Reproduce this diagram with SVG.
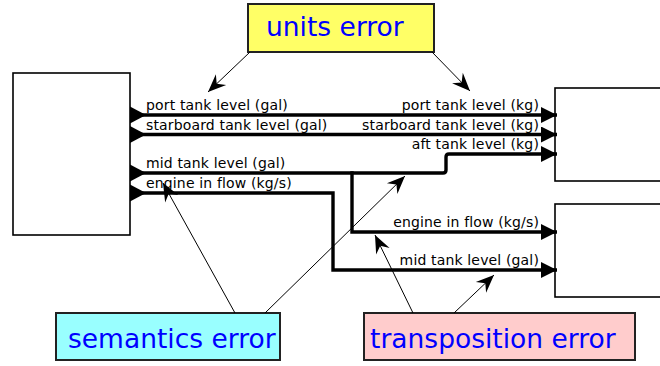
<svg xmlns="http://www.w3.org/2000/svg" width="660" height="366" viewBox="0 0 660 366">
  <style>
    .block { fill: #ffffff; stroke: #000000; stroke-width: 1.6; }
    .note { stroke: #222222; stroke-width: 2; }
    .note-text { font-family: "DejaVu Sans", sans-serif; font-size: 26.5px; fill: #0000ff; }
    .sig { fill: none; stroke: #000000; stroke-width: 3.4; }
    .lbl { font-family: "DejaVu Sans", sans-serif; font-size: 14px; letter-spacing: 0.15px; fill: #000000; }
    .lbl-r { text-anchor: end; }
    .hint { fill: none; stroke: #000000; stroke-width: 1; }
  </style>
  <defs>
    <!-- input-port arrowhead at the receiving block -->
    <marker id="tri" viewBox="-16 -8 16 16" refX="0" refY="0" markerWidth="16" markerHeight="16" markerUnits="userSpaceOnUse" orient="auto">
      <path d="M0,0 L-16,-8 L-16,8 Z" fill="#000000"/>
    </marker>
    <!-- output-port triangle at the sending block -->
    <marker id="outport" viewBox="0 -9 16 18" refX="0" refY="0" markerWidth="16" markerHeight="18" markerUnits="userSpaceOnUse" orient="auto">
      <path d="M16,0 L0,-8.5 L0,8.5 Z" fill="#000000"/>
    </marker>
    <!-- barbed arrowhead for annotation pointers -->
    <marker id="barb" viewBox="-19 -9 20 18" refX="0" refY="0" markerWidth="20" markerHeight="18" markerUnits="userSpaceOnUse" orient="auto">
      <path d="M0,0 L-18,-7.5 L-12,0 L-18,7.5 Z" fill="#000000"/>
    </marker>
  </defs>

  <rect width="660" height="366" fill="#ffffff"/>

  <!-- blocks -->
  <g id="source-block">
    <rect class="block" x="13" y="73" width="117" height="162"/>
  </g>
  <g id="tank-block">
    <rect class="block" x="555" y="88" width="110" height="93"/>
  </g>
  <g id="engine-block">
    <rect class="block" x="555" y="204" width="110" height="93"/>
  </g>

  <!-- annotation notes -->
  <g id="units-error">
    <rect class="note" x="248" y="4" width="186" height="48" fill="#ffff66"/>
    <text class="note-text" x="266" y="36">units error</text>
  </g>
  <g id="semantics-error">
    <rect class="note" x="56" y="313" width="224" height="47" fill="#99ffff"/>
    <text class="note-text" x="68" y="348">semantics error</text>
  </g>
  <g id="transposition-error">
    <rect class="note" x="364" y="313" width="271" height="47" fill="#ffcccc"/>
    <text class="note-text" x="370" y="348">transposition error</text>
  </g>

  <!-- signal lines -->
  <g id="signals">
    <path class="sig" d="M130,115 H557" marker-start="url(#outport)" marker-end="url(#tri)"/>
    <path class="sig" d="M130,134.5 H557" marker-start="url(#outport)" marker-end="url(#tri)"/>
    <path class="sig" d="M130,173 H443 Q446,173 446,170 V157 Q446,154 449,154 H557" marker-start="url(#outport)" marker-end="url(#tri)"/>
    <path class="sig" d="M352,171.3 V232 H557" marker-end="url(#tri)"/>
    <path class="sig" d="M130,193 H333 V270 H557" marker-start="url(#outport)" marker-end="url(#tri)"/>
  </g>

  <!-- signal labels -->
  <g id="signal-labels">
    <text class="lbl" x="146" y="110">port tank level (gal)</text>
    <text class="lbl" x="146" y="129.5">starboard tank level (gal)</text>
    <text class="lbl" x="146" y="168">mid tank level (gal)</text>
    <text class="lbl" x="146" y="188">engine in flow (kg/s)</text>
    <text class="lbl lbl-r" x="539" y="110">port tank level (kg)</text>
    <text class="lbl lbl-r" x="539" y="129.5">starboard tank level (kg)</text>
    <text class="lbl lbl-r" x="539" y="149">aft tank level (kg)</text>
    <text class="lbl lbl-r" x="539" y="227">engine in flow (kg/s)</text>
    <text class="lbl lbl-r" x="539" y="265">mid tank level (gal)</text>
  </g>

  <!-- annotation pointers -->
  <g id="pointers">
    <line class="hint" x1="250" y1="52" x2="208" y2="92" marker-end="url(#barb)"/>
    <line class="hint" x1="432" y1="52" x2="470" y2="91" marker-end="url(#barb)"/>
    <line class="hint" x1="235" y1="313" x2="163" y2="183" marker-end="url(#barb)"/>
    <line class="hint" x1="265" y1="313" x2="405" y2="176" marker-end="url(#barb)"/>
    <line class="hint" x1="413" y1="313" x2="375" y2="235" marker-end="url(#barb)"/>
    <line class="hint" x1="454" y1="313" x2="494" y2="275" marker-end="url(#barb)"/>
  </g>
</svg>
